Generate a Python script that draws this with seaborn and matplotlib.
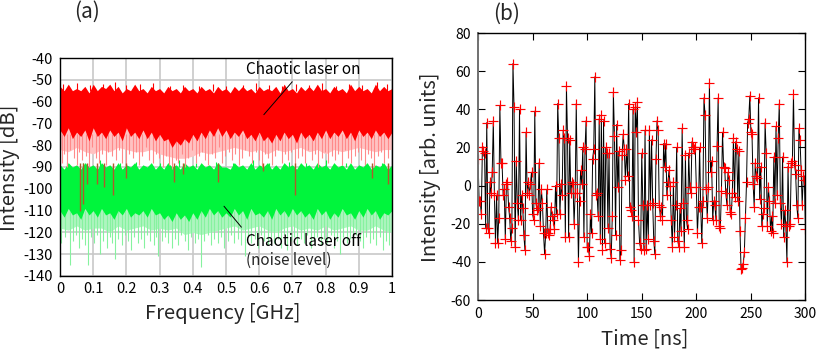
import numpy as np
import pandas as pd
import matplotlib
matplotlib.use("Agg")
import matplotlib.pyplot as plt
import seaborn as sns

# ---------------- Panel (a): RF spectrum (envelopes + visible spikes) ----------------
freq_ticks = [0, 0.1, 0.2, 0.3, 0.4, 0.5, 0.6, 0.7, 0.8, 0.9, 1]
freq_tick_labels = ["0", "0.1", "0.2", "0.3", "0.4", "0.5", "0.6", "0.7", "0.8", "0.9", "1"]
db_ticks = [-140, -130, -120, -110, -100, -90, -80, -70, -60, -50, -40]

# fine envelope sample positions (GHz), every 0.0125
env_freq_fine = [round(0.0125 * i, 4) for i in range(81)]
# coarse envelope sample positions (GHz), every 0.025
env_freq = [round(0.025 * i, 3) for i in range(41)]

red_top = [
    -53, -55, -52, -55, -54, -55, -53, -56, -52, -55, -53, -54, -52, -55, -53, -56, -54, -55, -52, -55,
    -54, -56, -53, -55, -54, -56, -53, -55, -54, -56, -53, -55, -54, -56, -53, -55, -54, -56, -53, -55,
    -54, -56, -53, -55, -53, -55, -54, -56, -53, -55, -54, -55, -53, -56, -52, -55, -54, -56, -53, -55,
    -53, -55, -52, -55, -54, -56, -53, -55, -54, -56, -52, -55, -53, -55, -54, -56, -52, -55, -53, -55,
    -54]
red_core_bottom = [
    -73, -76, -72, -77, -74, -76, -73, -78, -72, -76, -74, -77, -73, -76, -74, -78, -72, -76, -74, -77,
    -73, -77, -74, -78, -75, -78, -77, -81, -78, -80, -77, -79, -75, -78, -74, -77, -73, -76, -72, -76,
    -73, -77, -74, -76, -73, -77, -75, -78, -74, -78, -76, -79, -75, -78, -74, -77, -75, -79, -74, -77,
    -75, -78, -74, -77, -73, -77, -74, -76, -73, -77, -74, -78, -73, -76, -74, -77, -73, -76, -74, -77,
    -74]
red_haze_bottom = [-82, -83, -81, -83, -84, -82, -83, -81, -82, -83, -83, -82, -84, -85, -86, -86, -85, -83, -84, -83, -82,
                   -81, -82, -83, -82, -84, -82, -83, -82, -81, -83, -82, -84, -82, -83, -82, -81, -82, -83, -82, -82]

green_top = [
    -89, -91, -88, -90, -89, -91, -88, -90, -89, -91, -88, -90, -89, -91, -88, -91, -89, -90, -88, -91,
    -89, -90, -88, -91, -89, -91, -88, -90, -89, -91, -88, -90, -89, -91, -88, -90, -89, -91, -88, -90,
    -90, -91, -88, -90, -89, -91, -88, -91, -89, -90, -88, -91, -89, -91, -88, -90, -89, -91, -88, -90,
    -89, -91, -88, -90, -89, -91, -88, -90, -89, -91, -88, -91, -89, -90, -88, -91, -89, -90, -88, -91,
    -89]
green_core_bottom = [
    -110, -113, -109, -112, -111, -114, -109, -112, -110, -113, -109, -112, -111, -114, -110, -112, -109, -113, -111, -112,
    -110, -113, -109, -112, -111, -114, -112, -115, -111, -114, -112, -115, -111, -114, -110, -113, -109, -112, -110, -113,
    -111, -113, -109, -112, -110, -114, -109, -112, -111, -113, -110, -114, -109, -112, -110, -113, -109, -112, -110, -113,
    -111, -114, -109, -112, -110, -114, -111, -113, -109, -112, -111, -114, -110, -113, -109, -112, -110, -114, -111, -112,
    -110]
green_haze_bottom = [-118, -119, -117, -119, -118, -118, -120, -117, -119, -118, -117, -119, -118, -119, -118, -121, -120,
                     -121, -120, -119, -118, -117, -119, -118, -117, -119, -120, -118, -117, -119, -118, -119, -117, -119,
                     -118, -117, -119, -119, -117, -119, -120]

red_dips = [
    (0.005, -88), (0.012, -84), (0.020, -90), (0.030, -82), (0.041, -86), (0.050, -89), (0.058, -83), (0.066, -87), (0.078, -85), (0.088, -90),
    (0.097, -81), (0.108, -86), (0.118, -88), (0.127, -84), (0.138, -89), (0.146, -83), (0.157, -85), (0.168, -87), (0.178, -82), (0.187, -88),
    (0.198, -90), (0.207, -84), (0.219, -86), (0.228, -83), (0.239, -89), (0.248, -85), (0.259, -81), (0.268, -87), (0.279, -88), (0.288, -84),
    (0.297, -86), (0.309, -90), (0.318, -85), (0.328, -89), (0.337, -91), (0.348, -87), (0.356, -88), (0.367, -84), (0.378, -90), (0.387, -86),
    (0.398, -82), (0.409, -88), (0.418, -85), (0.428, -83), (0.437, -87), (0.447, -89), (0.458, -84), (0.467, -86), (0.478, -81), (0.488, -88),
    (0.497, -85), (0.508, -83), (0.517, -87), (0.527, -84), (0.538, -89), (0.548, -86), (0.557, -82), (0.568, -85), (0.578, -88), (0.589, -83),
    (0.598, -87), (0.607, -90), (0.618, -84), (0.628, -86), (0.638, -89), (0.648, -85), (0.657, -82), (0.668, -88), (0.678, -84), (0.688, -87),
    (0.697, -83), (0.708, -89), (0.718, -86), (0.728, -85), (0.737, -88), (0.748, -82), (0.758, -87), (0.767, -84), (0.778, -90), (0.788, -86),
    (0.797, -83), (0.808, -88), (0.818, -85), (0.828, -87), (0.837, -84), (0.848, -89), (0.857, -82), (0.868, -86), (0.877, -88), (0.888, -85),
    (0.897, -83), (0.908, -87), (0.918, -89), (0.927, -84), (0.938, -86), (0.947, -90), (0.957, -85), (0.968, -83), (0.977, -88), (0.988, -86),
]
red_peaks = [(0.01, -52), (0.05, -51.5), (0.09, -52.5), (0.13, -52), (0.165, -51), (0.2, -52.5), (0.24, -52), (0.28, -51.5),
             (0.33, -53), (0.37, -52.5), (0.42, -53), (0.46, -52), (0.5, -53), (0.55, -52.5), (0.59, -51.5), (0.63, -52.5),
             (0.67, -53), (0.71, -52), (0.75, -52.5), (0.79, -51.5), (0.83, -53), (0.87, -52), (0.91, -52.5), (0.955, -51),
             (0.985, -52)]
dark_dips = [(0.060, -110), (0.070, -107), (0.080, -98), (0.113, -98), (0.133, -99), (0.161, -103), (0.199, -95),
             (0.343, -97), (0.371, -93), (0.477, -97), (0.612, -92), (0.708, -103), (0.939, -95), (0.989, -98)]

green_dips = [
    (0.004, -125), (0.014, -122), (0.030, -135), (0.038, -124), (0.047, -121), (0.056, -127), (0.066, -123), (0.076, -126), (0.085, -135), (0.094, -122),
    (0.104, -125), (0.113, -121), (0.120, -130), (0.131, -124), (0.141, -127), (0.150, -122), (0.158, -125), (0.166, -132), (0.176, -123), (0.186, -126),
    (0.195, -121), (0.205, -124), (0.214, -128), (0.224, -122), (0.234, -125), (0.243, -123), (0.253, -127), (0.262, -121), (0.272, -124), (0.282, -126),
    (0.289, -122), (0.296, -131), (0.306, -124), (0.316, -122), (0.326, -125), (0.336, -127), (0.346, -123), (0.356, -126), (0.366, -121), (0.376, -124),
    (0.386, -128), (0.396, -122), (0.406, -125), (0.416, -123), (0.425, -136), (0.435, -124), (0.445, -121), (0.455, -126), (0.465, -123), (0.475, -125),
    (0.485, -122), (0.495, -127), (0.505, -124), (0.515, -121), (0.525, -125), (0.535, -123), (0.545, -126), (0.557, -131), (0.566, -122), (0.576, -125),
    (0.586, -123), (0.596, -127), (0.606, -121), (0.616, -124), (0.626, -126), (0.636, -122), (0.646, -125), (0.656, -123), (0.666, -127), (0.676, -121),
    (0.685, -128), (0.695, -124), (0.705, -122), (0.715, -126), (0.725, -123), (0.735, -125), (0.745, -121), (0.755, -127), (0.765, -124), (0.775, -122),
    (0.785, -126), (0.795, -123), (0.805, -125), (0.815, -121), (0.825, -127), (0.834, -124), (0.843, -130), (0.853, -122), (0.863, -125), (0.873, -123),
    (0.883, -126), (0.893, -121), (0.903, -124), (0.913, -127), (0.923, -122), (0.933, -125), (0.943, -123), (0.953, -126), (0.963, -122), (0.973, -128),
    (0.982, -124), (0.990, -126), (0.999, -136),
]
green_peaks = [(0.02, -87.5), (0.07, -88), (0.12, -87), (0.18, -88), (0.23, -87.5), (0.3, -88), (0.36, -87), (0.41, -88),
               (0.47, -87.5), (0.52, -88), (0.58, -87), (0.63, -88), (0.69, -87.5), (0.74, -88), (0.8, -87), (0.86, -88),
               (0.92, -87.5), (0.97, -88)]

# ---------------- Panel (b): time series (1 ns sampling) ----------------
intensity = [
    14, -8, -8, -15, 20, 18, 17, -22, 33, -22,
    -25, 2, -4, 7, 34, -5, -30, -5, -30, -17,
    42, 12, 12, -5, -2, -28, 1, 2, -11, -17,
    -29, -22, 64, 41, -32, 13, -9, -18, 40, -18,
    -5, -12, -26, -34, 28, -4, 2, -5, 1, 7,
    -15, -18, 39, -9, -13, -12, 12, -21, -2, -9,
    -25, -36, -25, -2, -25, -26, -23, -11, -16, -18,
    -23, 0, -15, 43, 25, -15, 1, -5, 29, 25,
    -27, 52, 25, -27, 24, -4, 2, 1, -20, -4,
    43, -4, -40, -8, 8, 1, 20, -27, 19, 34,
    -32, -32, -37, -15, -25, 14, 19, 57, -5, -4,
    -16, 35, -28, 37, -34, 34, -30, 20, 17, -22,
    17, -33, -38, -16, 49, 26, -26, 32, -1, 18,
    -39, -34, 16, 27, 19, 3, 19, 5, 43, -11,
    -13, -16, 40, -40, 41, 28, 44, -18, -30, -33,
    17, -10, -34, 29, -33, -10, -28, 29, -10, 24,
    -9, -29, -36, 14, 34, 29, -10, -16, -11, -18,
    22, 10, 22, -5, 2, 8, 0, -18, -32, 2,
    -27, -10, 20, -29, -32, -12, -24, 30, -9, -32,
    16, -18, -23, 17, -1, -4, 23, 20, 19, 20,
    -1, -25, -11, 20, -11, -30, -8, 46, 37, -2,
    -17, -1, 54, 7, 13, -18, -8, -10, -18, 21,
    46, -21, -22, -3, 28, 10, 9, -4, -10, 7,
    3, -14, -15, -4, 25, -6, 23, 19, -8, 18,
    -24, -44, -43, -41, -35, -17, 2, 33, 35, 47,
    28, 27, 1, -11, 12, 5, 4, 46, -7, 10,
    -21, -15, -12, 33, 17, -21, -1, -8, -24, -16,
    -25, 15, -9, 31, -5, 25, 43, -9, -20, 15,
    -27, -13, -21, -40, 10, -21, -20, 12, 13, 48,
    11, 6, -10, -17, 30, 24, 8, -10, 5, 3,
    -23,
]
time_ns = list(range(len(intensity)))
time_ticks = [0, 50, 100, 150, 200, 250, 300]
arb_ticks = [-60, -40, -20, 0, 20, 40, 60, 80]

# ---------------- style ----------------
sns.set_theme(style="white")
plt.rcParams["font.family"] = ["Noto Sans CJK JP", "DejaVu Sans"]
plt.rcParams["axes.unicode_minus"] = False

RED = "#ff0000"
RED_HAZE = "#ffc2c2"
RED_SPIKE = "#ff8a8a"
GREEN = "#00f53c"
GREEN_HAZE = "#aef5bf"
GREEN_SPIKE = "#86f29f"
DARK_SPIKE = "#b05a2a"

fig = plt.figure(figsize=(8.17, 3.49), dpi=100)
axA = fig.add_axes([0.0734, 0.2092, 0.4064, 0.6246])
axB = fig.add_axes([0.5851, 0.1404, 0.4008, 0.765])

# ---- panel (a)
axA.set_axisbelow(True)
axA.grid(True, color="#c8c8c8", lw=1.2)
axA.fill_between(env_freq, green_haze_bottom, -100, color=GREEN_HAZE, lw=0, zorder=2)
gd_f, gd_v = zip(*green_dips)
axA.vlines(gd_f, -110, gd_v, color=GREEN_SPIKE, lw=0.8, zorder=2.1)
axA.fill_between(env_freq_fine, green_core_bottom, green_top, color=GREEN, lw=0, zorder=2.4)
gp_f, gp_v = zip(*green_peaks)
axA.vlines(gp_f, -90, gp_v, color=GREEN, lw=0.8, zorder=2.4)

axA.fill_between(env_freq, red_haze_bottom, -70, color=RED_HAZE, lw=0, zorder=3)
rd_f, rd_v = zip(*red_dips)
axA.vlines(rd_f, -75, rd_v, color=RED_SPIKE, lw=0.8, zorder=3.1)
axA.fill_between(env_freq_fine, red_core_bottom, red_top, color=RED, lw=0, zorder=3.4)
rp_f, rp_v = zip(*red_peaks)
axA.vlines(rp_f, -55, rp_v, color=RED, lw=0.8, zorder=3.4)
dd_f, dd_v = zip(*dark_dips)
axA.vlines(dd_f, -88, dd_v, color=DARK_SPIKE, lw=1.0, zorder=3.6)

axA.set_xlim(0, 1)
axA.set_ylim(-140, -40)
axA.set_xticks(freq_ticks)
axA.set_xticklabels(freq_tick_labels)
axA.set_yticks(db_ticks)
axA.tick_params(axis="both", length=0, labelsize=10.5, colors="black")
axA.tick_params(axis="x", pad=4)
axA.tick_params(axis="y", pad=5)
for s in axA.spines.values():
    s.set_color("black")
    s.set_linewidth(1.0)
    s.set_zorder(5)

axA.annotate("Chaotic laser on", xy=(0.614, -66), xytext=(0.560, -45.5),
             fontsize=11, va="center", ha="left", color="black", zorder=6,
             arrowprops=dict(arrowstyle="-", color="black", lw=0.7,
                             shrinkA=0, shrinkB=0, relpos=(0.43, 0.0)))
axA.annotate("Chaotic laser off", xy=(0.494, -108), xytext=(0.560, -124),
             fontsize=11, va="center", ha="left", color="black", zorder=6,
             arrowprops=dict(arrowstyle="-", color="black", lw=0.7,
                             shrinkA=2, shrinkB=0, relpos=(0.0, 1.0)))
axA.text(0.560, -132.7, "(noise level)", fontsize=11, va="center", ha="left", zorder=6)

# ---- panel (b)
df = pd.DataFrame({"time": time_ns, "intensity": intensity})
sns.lineplot(data=df, x="time", y="intensity", ax=axB, color="black", lw=0.7,
             marker="+", markersize=6.5, markeredgecolor="red", markeredgewidth=0.85,
             estimator=None, sort=False)
axB.set_xlim(0, 300)
axB.set_ylim(-60, 80)
axB.set_xticks(time_ticks)
axB.set_yticks(arb_ticks)
axB.set_xlabel("")
axB.set_ylabel("")
axB.tick_params(axis="both", direction="in", length=5, width=0.8, top=True, right=True,
                labelsize=10, colors="black", bottom=True, left=True)
axB.tick_params(axis="x", pad=5)
axB.tick_params(axis="y", pad=5)
for name, s in axB.spines.items():
    s.set_color("black")
    s.set_linewidth(1.0)
axB.spines["left"].set_color("#707070")
axB.spines["left"].set_linewidth(1.4)

# ---- labels / titles
fig.text(0.0116, 0.52, "Intensity [dB]", rotation=90, ha="center", va="center", fontsize=14.5)
fig.text(0.273, 0.103, "Frequency [GHz]", ha="center", va="center", fontsize=14.5)
fig.text(0.5275, 0.522, "Intensity [arb. units]", rotation=90, ha="center", va="center", fontsize=14.5)
fig.text(0.7887, 0.030, "Time [ns]", ha="center", va="center", fontsize=14.5)
fig.text(0.1065, 0.966, "(a)", ha="center", va="center", fontsize=15)
fig.text(0.6206, 0.961, "(b)", ha="center", va="center", fontsize=15)

fig.savefig("out.png", dpi=100)
